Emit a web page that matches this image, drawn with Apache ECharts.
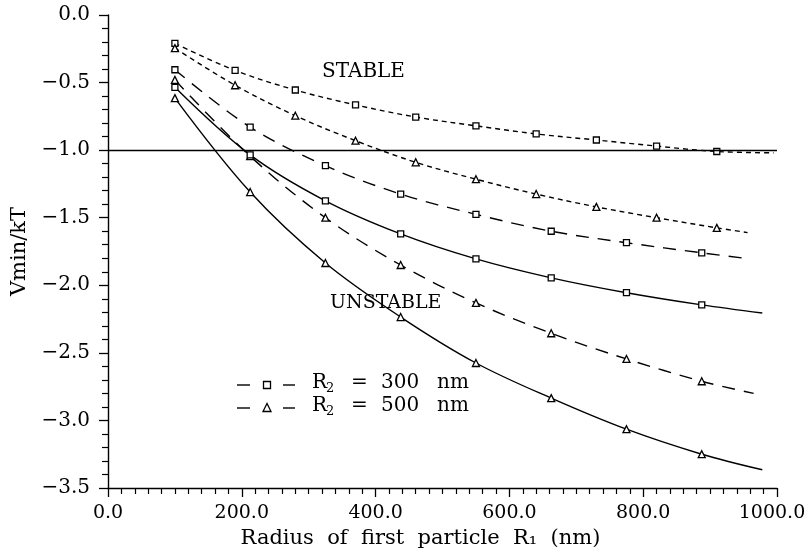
<!DOCTYPE html>
<html>
<head>
<meta charset="utf-8">
<script src="https://cdn.jsdelivr.net/npm/echarts@6/dist/echarts.min.js"></script>
<style>
  html, body { margin: 0; padding: 0; background: #fff; }
  #chart { width: 809px; height: 550px; }
</style>
</head>
<body>
<div id="chart"></div>
<script>
// Radius of first particle R1 (nm) at which the curves carry markers
const r1Fine = [100, 190, 280, 370, 460, 550, 640, 730, 820, 910];
const r1Coarse = [100, 212.5, 325, 437.5, 550, 662.5, 775, 887.5];

// Vmin/kT, short-dash curves
const sq300Short = [-0.21, -0.41, -0.555, -0.665, -0.755, -0.82, -0.88, -0.925, -0.97, -1.01];
const sq300ShortEnd = [995, -1.02];
const tri500Short = [-0.245, -0.52, -0.745, -0.93, -1.09, -1.215, -1.325, -1.42, -1.50, -1.575];
const tri500ShortEnd = [956, -1.61];

// Vmin/kT, long-dash curves
const sq300Long = [-0.405, -0.83, -1.115, -1.325, -1.475, -1.60, -1.685, -1.76];
const sq300LongEnd = [960, -1.805];
const tri500Long = [-0.48, -1.045, -1.50, -1.85, -2.13, -2.355, -2.545, -2.71];
const tri500LongEnd = [965, -2.80];

// Vmin/kT, solid curves
const sq300Solid = [-0.535, -1.035, -1.375, -1.62, -1.805, -1.945, -2.055, -2.145];
const sq300SolidEnd = [978, -2.205];
const tri500Solid = [-0.615, -1.31, -1.835, -2.235, -2.575, -2.835, -3.065, -3.25];
const tri500SolidEnd = [978, -3.365];

// Axis ranges and tick steps
const xRange = [0, 1000];
const xStep = 200;
const yRange = [-3.5, 0];
const yStep = 0.5;
const stabilityLevel = -1.0;

const SERIF = '"DejaVu Serif", "Liberation Serif", serif';
const SHORT_DASH = [5, 4];
const LONG_DASH = [13, 9];

function curve(name, xs, ys, tail, symbol, dash) {
  const data = xs.map((x, i) => [x, ys[i]]);
  data.push({ value: tail, symbol: 'none' });
  return {
    name: name,
    type: 'line',
    data: data,
    smooth: 0.35,
    symbol: symbol,
    symbolSize: symbol === 'triangle' ? 7 : 6,
    itemStyle: { color: '#fff', borderColor: '#000', borderWidth: 1.3 },
    lineStyle: { color: '#000', width: 1.4, type: dash },
    z: 3
  };
}

const series = [
  curve('R2 = 300 nm (short dash)', r1Fine, sq300Short, sq300ShortEnd, 'rect', SHORT_DASH),
  curve('R2 = 500 nm (short dash)', r1Fine, tri500Short, tri500ShortEnd, 'triangle', SHORT_DASH),
  curve('R2 = 300 nm (long dash)', r1Coarse, sq300Long, sq300LongEnd, 'rect', LONG_DASH),
  curve('R2 = 500 nm (long dash)', r1Coarse, tri500Long, tri500LongEnd, 'triangle', LONG_DASH),
  curve('R2 = 300 nm (solid)', r1Coarse, sq300Solid, sq300SolidEnd, 'rect', 'solid'),
  curve('R2 = 500 nm (solid)', r1Coarse, tri500Solid, tri500SolidEnd, 'triangle', 'solid')
];

// stability threshold
series[0].markLine = {
  silent: true,
  symbol: 'none',
  label: { show: false },
  lineStyle: { color: '#000', width: 1.4, type: 'solid' },
  data: [{ yAxis: stabilityLevel }]
};

const fmt = v => v.toFixed(1).replace('-', '\u2212');
// the last x label is nudged left so it stays inside the canvas
const fmtX = v => (v === xRange[1] ? '{last|' + fmt(v) + '}' : fmt(v));

// legend rows: dash, marker, dash, text
function legendRow(y, marker, value) {
  const font = '20px ' + SERIF;
  const items = [
    { type: 'line', shape: { x1: 237, y1: y, x2: 250, y2: y }, style: { stroke: '#000', lineWidth: 1.4 } },
    { type: 'line', shape: { x1: 283, y1: y, x2: 295, y2: y }, style: { stroke: '#000', lineWidth: 1.4 } },
    { type: 'text', left: 312, top: y - 12, style: { text: 'R', font: font, fill: '#000' } },
    { type: 'text', left: 326, top: y - 3, style: { text: '2', font: '13px ' + SERIF, fill: '#000' } },
    { type: 'text', left: 351, top: y - 12, style: { text: '=', font: font, fill: '#000' } },
    { type: 'text', left: 381, top: y - 12, style: { text: value, font: font, fill: '#000' } },
    { type: 'text', left: 437, top: y - 12, style: { text: 'nm', font: font, fill: '#000' } }
  ];
  if (marker === 'rect') {
    items.push({ type: 'rect', shape: { x: 263.5, y: y - 3.5, width: 7, height: 7 }, style: { fill: '#fff', stroke: '#000', lineWidth: 1.3 } });
  } else {
    items.push({ type: 'polygon', shape: { points: [[267, y - 4.5], [263, y + 3.5], [271, y + 3.5]] }, style: { fill: '#fff', stroke: '#000', lineWidth: 1.3 } });
  }
  return items;
}

const chart = echarts.init(document.getElementById('chart'), null, { renderer: 'canvas' });
chart.setOption({
  animation: false,
  backgroundColor: '#fff',
  grid: { left: 108, right: 32, top: 15, bottom: 62, containLabel: false, outerBoundsMode: 'none' },
  xAxis: {
    type: 'value',
    min: xRange[0], max: xRange[1], interval: xStep,
    name: 'Radius  of  first  particle  R\u2081  (nm)',
    nameLocation: 'middle', nameGap: 35,
    nameTextStyle: { fontFamily: SERIF, fontSize: 21, color: '#000', padding: [0, 44, 0, 0] },
    axisLine: { show: true, onZero: false, lineStyle: { color: '#000', width: 1.4 } },
    axisTick: { show: true, inside: false, length: 9, lineStyle: { color: '#000', width: 1.3 } },
    minorTick: { show: true, splitNumber: 10, length: 6, lineStyle: { color: '#000', width: 1.2 } },
    splitLine: { show: false },
    axisLabel: {
      formatter: fmtX, fontFamily: SERIF, fontSize: 19, color: '#000', margin: 16,
      rich: { last: { fontFamily: SERIF, fontSize: 19, color: '#000', padding: [0, 10, 0, 0] } }
    }
  },
  yAxis: {
    type: 'value',
    min: yRange[0], max: yRange[1], interval: yStep,
    name: 'Vmin/kT',
    nameLocation: 'middle', nameGap: 71, nameRotate: 90,
    nameTextStyle: { fontFamily: SERIF, fontSize: 21, color: '#000' },
    axisLine: { show: true, onZero: false, lineStyle: { color: '#000', width: 1.4 } },
    axisTick: { show: true, inside: false, length: 9, lineStyle: { color: '#000', width: 1.3 } },
    minorTick: { show: true, splitNumber: 5, length: 6, lineStyle: { color: '#000', width: 1.2 } },
    splitLine: { show: false },
    axisLabel: { formatter: fmt, fontFamily: SERIF, fontSize: 20, color: '#000', margin: 18 }
  },
  series: series,
  graphic: [
    { type: 'text', left: 322, top: 62, style: { text: 'STABLE', font: '20px ' + SERIF, fill: '#000' }, z: 10 },
    { type: 'text', left: 330, top: 294, style: { text: 'UNSTABLE', font: '19px ' + SERIF, fill: '#000' }, z: 10 }
  ].concat(legendRow(385, 'rect', '300'), legendRow(408, 'triangle', '500'))
});
</script>
</body>
</html>
